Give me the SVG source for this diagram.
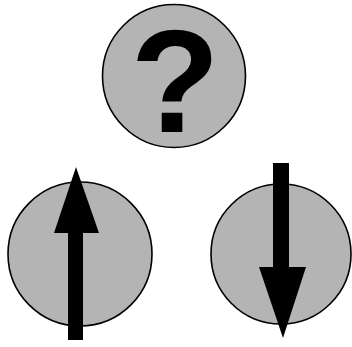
<svg xmlns="http://www.w3.org/2000/svg" width="352" height="347" viewBox="0 0 352 347">
  <style>
    .disc { fill: #b4b4b4; stroke: #000; stroke-width: 1.6; }
    .ink { fill: #000; stroke: none; }
    .q { font-family: "Liberation Sans", Arial, sans-serif; font-weight: bold; font-size: 146px; fill: #000; }
  </style>
  <rect width="352" height="347" fill="#fff"/>
  <g id="node-unknown">
    <circle class="disc" cx="174" cy="76" r="71.5"/>
    <text class="q" x="175" y="132" text-anchor="middle">?</text>
  </g>
  <g id="node-up">
    <circle class="disc" cx="80" cy="254" r="72"/>
  </g>
  <g id="node-down">
    <circle class="disc" cx="281" cy="254" r="70"/>
  </g>
  <g id="connectors">
    <path class="ink" d="M76,167 L99,233 L83,233 L83,340 L68,340 L68,233 L54,233 Z"/>
    <path class="ink" d="M273,163 L289,163 L289,267 L306,267 L283,338 L259,267 L273,267 Z"/>
  </g>
</svg>
